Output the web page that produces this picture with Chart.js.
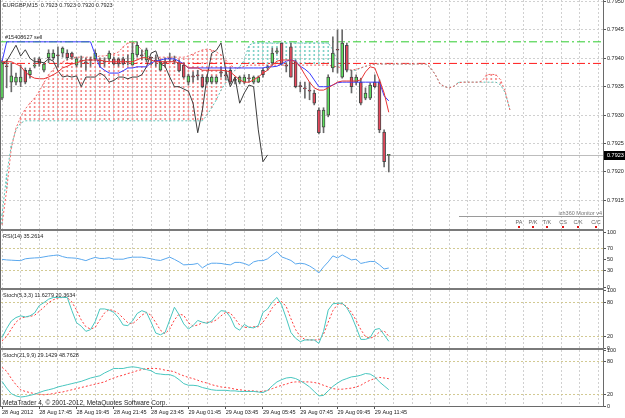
<!DOCTYPE html>
<html>
<head>
<meta charset="utf-8">
<script src="https://cdn.jsdelivr.net/npm/chart.js@4.4.1/dist/chart.umd.min.js"></script>
<style>
  body { margin: 0; background: #fff; width: 625px; height: 418px; overflow: hidden; position: relative; }
  canvas { position: absolute; left: 0; }
  .sep { position: absolute; left: 0; width: 604px; height: 2px; background: #7a7a7a; z-index: 5; }
</style>
</head>
<body>
<canvas id="mainChart" width="625" height="241" style="top:-6px"></canvas>
<canvas id="rsiChart" width="625" height="69" style="top:225px"></canvas>
<canvas id="stochFast" width="625" height="70" style="top:284px"></canvas>
<canvas id="stochSlow" width="625" height="74" style="top:344px"></canvas>
<div class="sep" style="top:229px"></div>
<div class="sep" style="top:288px"></div>
<div class="sep" style="top:348px"></div>
<script>
// EURGBP M15, 28 Aug 15:45 .. 29 Aug 12:30 (84 bars)
const symbol = 'EURGBP,M15';
const timeLabels = ['28 Aug 2012', '28 Aug 17:45', '28 Aug 19:45', '28 Aug 21:45', '28 Aug 23:45',
  '29 Aug 01:45', '29 Aug 03:45', '29 Aug 05:45', '29 Aug 07:45', '29 Aug 09:45', '29 Aug 11:45'];

const open = [
  0.79330, 0.79386, 0.79358, 0.79358, 0.79358, 0.79379, 0.79371, 0.79386, 0.79399, 0.79379,
  0.79401, 0.79401, 0.79406, 0.79409, 0.79409, 0.79409, 0.79388, 0.79397, 0.79394, 0.79397,
  0.79399, 0.79397, 0.79394, 0.79399, 0.79399, 0.79399, 0.79399, 0.79394, 0.79388, 0.79406,
  0.79406, 0.79397, 0.79401, 0.79397, 0.79379, 0.79394, 0.79401, 0.79397, 0.79392, 0.79388,
  0.79358, 0.79369, 0.79371, 0.79367, 0.79358, 0.79358, 0.79358, 0.79376, 0.79371, 0.79379,
  0.79362, 0.79358, 0.79358, 0.79365, 0.79358, 0.79358, 0.79379, 0.79383, 0.79392, 0.79411,
  0.79427, 0.79388, 0.79420, 0.79394, 0.79351, 0.79348, 0.79344, 0.79339, 0.79309, 0.79279,
  0.79300, 0.79383, 0.79415, 0.79367, 0.79423, 0.79367, 0.79358, 0.79358, 0.79330, 0.79330,
  0.79358, 0.79358, 0.79270, 0.79230
];
const high = [
  0.79397, 0.79397, 0.79392, 0.79374, 0.79388, 0.79383, 0.79383, 0.79401, 0.79402, 0.79392,
  0.79415, 0.79415, 0.79420, 0.79420, 0.79415, 0.79411, 0.79402, 0.79404, 0.79401, 0.79402,
  0.79415, 0.79401, 0.79401, 0.79413, 0.79402, 0.79401, 0.79402, 0.79406, 0.79427, 0.79429,
  0.79415, 0.79418, 0.79402, 0.79406, 0.79397, 0.79401, 0.79409, 0.79404, 0.79397, 0.79392,
  0.79372, 0.79376, 0.79379, 0.79371, 0.79369, 0.79369, 0.79369, 0.79385, 0.79379, 0.79383,
  0.79367, 0.79369, 0.79371, 0.79372, 0.79369, 0.79369, 0.79383, 0.79388, 0.79418, 0.79418,
  0.79427, 0.79392, 0.79427, 0.79397, 0.79358, 0.79358, 0.79358, 0.79344, 0.79313, 0.79313,
  0.79371, 0.79438, 0.79450, 0.79450, 0.79427, 0.79379, 0.79371, 0.79365, 0.79348, 0.79357,
  0.79371, 0.79362, 0.79274, 0.79230
];
const low = [
  0.79327, 0.79348, 0.79341, 0.79353, 0.79350, 0.79355, 0.79365, 0.79383, 0.79386, 0.79376,
  0.79392, 0.79397, 0.79385, 0.79402, 0.79397, 0.79399, 0.79385, 0.79385, 0.79379, 0.79386,
  0.79395, 0.79385, 0.79386, 0.79395, 0.79388, 0.79386, 0.79388, 0.79388, 0.79388, 0.79402,
  0.79397, 0.79394, 0.79388, 0.79386, 0.79378, 0.79386, 0.79394, 0.79390, 0.79376, 0.79365,
  0.79353, 0.79358, 0.79362, 0.79348, 0.79355, 0.79355, 0.79355, 0.79367, 0.79362, 0.79355,
  0.79355, 0.79355, 0.79355, 0.79358, 0.79355, 0.79357, 0.79367, 0.79379, 0.79388, 0.79408,
  0.79388, 0.79376, 0.79367, 0.79348, 0.79341, 0.79330, 0.79327, 0.79318, 0.79267, 0.79269,
  0.79297, 0.79376, 0.79374, 0.79365, 0.79376, 0.79339, 0.79353, 0.79318, 0.79327, 0.79327,
  0.79348, 0.79269, 0.79209, 0.79200
];
const close = [
  0.79394, 0.79385, 0.79369, 0.79367, 0.79367, 0.79358, 0.79379, 0.79388, 0.79392, 0.79390,
  0.79409, 0.79409, 0.79404, 0.79418, 0.79401, 0.79402, 0.79399, 0.79395, 0.79392, 0.79396,
  0.79409, 0.79395, 0.79393, 0.79409, 0.79390, 0.79390, 0.79390, 0.79395, 0.79409, 0.79423,
  0.79404, 0.79415, 0.79400, 0.79394, 0.79394, 0.79392, 0.79399, 0.79395, 0.79378, 0.79367,
  0.79369, 0.79367, 0.79369, 0.79350, 0.79367, 0.79367, 0.79367, 0.79374, 0.79369, 0.79358,
  0.79361, 0.79367, 0.79367, 0.79364, 0.79367, 0.79367, 0.79371, 0.79385, 0.79409, 0.79413,
  0.79390, 0.79386, 0.79367, 0.79350, 0.79350, 0.79346, 0.79342, 0.79321, 0.79269, 0.79309,
  0.79367, 0.79409, 0.79414, 0.79427, 0.79379, 0.79350, 0.79367, 0.79321, 0.79339, 0.79353,
  0.79350, 0.79274, 0.79218, 0.79230
];

// Ichimoku lines
const tenkan = [
  0.79394, 0.79394, 0.79394, 0.79390, 0.79386, 0.79376, 0.79369, 0.79365, 0.79364, 0.79364,
  0.79367, 0.79371, 0.79376, 0.79383, 0.79386, 0.79390, 0.79392, 0.79395, 0.79397, 0.79397,
  0.79397, 0.79397, 0.79395, 0.79394, 0.79394, 0.79394, 0.79394, 0.79394, 0.79394, 0.79397,
  0.79401, 0.79401, 0.79397, 0.79394, 0.79394, 0.79394, 0.79394, 0.79394, 0.79392, 0.79390,
  0.79383, 0.79383, 0.79383, 0.79379, 0.79379, 0.79379, 0.79379, 0.79379, 0.79378, 0.79376,
  0.79369, 0.79362, 0.79358, 0.79358, 0.79362, 0.79367, 0.79374, 0.79379, 0.79388, 0.79395,
  0.79397, 0.79397, 0.79397, 0.79394, 0.79385, 0.79371, 0.79358, 0.79348, 0.79344, 0.79344,
  0.79348, 0.79353, 0.79358, 0.79360, 0.79360, 0.79360, 0.79360, 0.79362, 0.79376, 0.79385,
  0.79383, 0.79362, 0.79339, 0.79305
];
const kijun = [
  0.79394, 0.79429, 0.79429, 0.79429, 0.79429, 0.79429, 0.79429, 0.79429, 0.79429, 0.79429,
  0.79429, 0.79429, 0.79429, 0.79429, 0.79429, 0.79429, 0.79429, 0.79429, 0.79429, 0.79429,
  0.79406, 0.79385, 0.79379, 0.79374, 0.79374, 0.79374, 0.79378, 0.79383, 0.79383, 0.79385,
  0.79385, 0.79385, 0.79392, 0.79395, 0.79397, 0.79399, 0.79399, 0.79399, 0.79395, 0.79390,
  0.79383, 0.79383, 0.79383, 0.79383, 0.79383, 0.79383, 0.79383, 0.79383, 0.79383, 0.79383,
  0.79383, 0.79383, 0.79383, 0.79383, 0.79383, 0.79383, 0.79383, 0.79385, 0.79385, 0.79386,
  0.79390, 0.79395, 0.79397, 0.79395, 0.79386, 0.79381, 0.79374, 0.79362, 0.79350, 0.79350,
  0.79350, 0.79353, 0.79357, 0.79358, 0.79358, 0.79358, 0.79358, 0.79358, 0.79358, 0.79358,
  0.79358, 0.79358, 0.79334, 0.79325
];
// cloud spans run 26 bars past the last candle (110 values)
const spanA = [
  0.79107, 0.79168, 0.79242, 0.79277, 0.79297, 0.79311, 0.79321, 0.79330, 0.79342, 0.79357,
  0.79371, 0.79381, 0.79388, 0.79394, 0.79397, 0.79401, 0.79402, 0.79402, 0.79402, 0.79402,
  0.79402, 0.79404, 0.79404, 0.79406, 0.79408, 0.79411, 0.79420, 0.79427, 0.79429, 0.79423,
  0.79415, 0.79404, 0.79401, 0.79401, 0.79402, 0.79402, 0.79402, 0.79402, 0.79402, 0.79402,
  0.79404, 0.79408, 0.79411, 0.79415, 0.79416, 0.79415, 0.79411, 0.79406, 0.79397, 0.79388,
  0.79383, 0.79383, 0.79386, 0.79388, 0.79388, 0.79388, 0.79388, 0.79388, 0.79388, 0.79388,
  0.79388, 0.79388, 0.79388, 0.79388, 0.79388, 0.79388, 0.79388, 0.79388, 0.79388, 0.79388,
  0.79388, 0.79386, 0.79385, 0.79383, 0.79381, 0.79379, 0.79381, 0.79383, 0.79386, 0.79388,
  0.79390, 0.79390, 0.79390, 0.79390, 0.79390, 0.79390, 0.79390, 0.79390, 0.79390, 0.79390,
  0.79390, 0.79390, 0.79383, 0.79371, 0.79355, 0.79350, 0.79348, 0.79351, 0.79357, 0.79358,
  0.79358, 0.79358, 0.79358, 0.79360, 0.79371, 0.79372, 0.79371, 0.79362, 0.79341, 0.79309
];
const spanB = [
  0.79124, 0.79195, 0.79247, 0.79274, 0.79286, 0.79290, 0.79290, 0.79290, 0.79290, 0.79290,
  0.79290, 0.79290, 0.79290, 0.79290, 0.79290, 0.79290, 0.79290, 0.79290, 0.79290, 0.79290,
  0.79290, 0.79290, 0.79290, 0.79290, 0.79290, 0.79290, 0.79290, 0.79290, 0.79290, 0.79290,
  0.79290, 0.79290, 0.79290, 0.79290, 0.79290, 0.79290, 0.79290, 0.79290, 0.79290, 0.79290,
  0.79290, 0.79290, 0.79290, 0.79290, 0.79300, 0.79313, 0.79327, 0.79344, 0.79357, 0.79371,
  0.79379, 0.79385, 0.79397, 0.79423, 0.79427, 0.79427, 0.79427, 0.79427, 0.79427, 0.79427,
  0.79427, 0.79427, 0.79427, 0.79427, 0.79427, 0.79427, 0.79427, 0.79427, 0.79427, 0.79427,
  0.79427, 0.79415, 0.79394, 0.79383, 0.79379, 0.79379, 0.79379, 0.79383, 0.79386, 0.79388,
  0.79390, 0.79390, 0.79390, 0.79390, 0.79390, 0.79390, 0.79390, 0.79390, 0.79390, 0.79390,
  0.79390, 0.79390, 0.79383, 0.79371, 0.79355, 0.79350, 0.79348, 0.79351, 0.79358, 0.79358,
  0.79358, 0.79358, 0.79358, 0.79358, 0.79358, 0.79358, 0.79358, 0.79353, 0.79339, 0.79309
];

const orderTicket = '#15408627 sell';
const orderPrice = 0.79429;
const stopPrice = 0.79391;
const priceTicks = [0.7915, 0.7920, 0.7925, 0.7930, 0.7935, 0.7940, 0.7945, 0.7950];

const rsi = [
  51, 50, 49.5, 49, 48.7, 52, 53, 53.6, 54, 55.5,
  57, 58, 59, 56, 54, 53.6, 53, 51, 48.7, 52,
  54.5, 52.7, 52.7, 54, 51.3, 51.3, 51.3, 53.6, 55, 55,
  55, 53.6, 52, 50, 49, 52, 55, 51, 46.4, 41,
  41.5, 42, 43.6, 35.5, 41, 44, 44, 43.6, 42, 41,
  45.5, 45.5, 43.6, 40, 46.4, 48.7, 48.7, 52, 59, 65,
  55.5, 52.4, 49, 42.7, 44, 42.7, 39, 33.6, 26.4, 37.3,
  46.4, 57.3, 53.6, 59, 54.5, 50, 51.3, 43.6, 45.5, 47.3,
  47, 41, 33.6, 35.2614
];
const rsiTicks = [0, 30, 50, 70, 100];
const rsiLevels = [30, 70];

const stochMain = [
  18, 34, 47, 53, 56, 54, 56, 61, 74, 79,
  85, 88, 88, 88, 88, 65, 44, 38, 29, 32,
  46, 68, 68, 66, 62, 53, 40, 39, 47, 60,
  65, 62, 45, 26, 23, 27, 49, 71, 58, 42,
  33, 39, 48, 45, 43, 47, 57, 65, 64, 54,
  36, 31, 41, 36, 35, 39, 62, 68, 80, 88,
  75, 52, 27, 17, 11, 14, 14, 14, 8, 29,
  66, 77, 78, 78, 70, 56, 36, 15, 15, 18,
  32, 34, 23, 11.6279
];
const stochSignal = [
  12, 20, 33, 45, 52, 54, 55, 57, 64, 71,
  79, 84, 87, 88, 88, 80, 66, 49, 37, 33,
  36, 49, 61, 67, 65, 60, 52, 44, 42, 49,
  57, 62, 57, 44, 31, 25, 33, 49, 59, 57,
  44, 38, 40, 44, 45, 45, 49, 56, 62, 61,
  51, 40, 36, 36, 37, 37, 45, 56, 70, 79,
  81, 72, 51, 32, 20, 15, 14, 14, 14, 24,
  45, 65, 76, 77, 72, 62, 48, 32, 20, 17,
  20, 28, 30, 20.3634
];
const slowMain = [
  44, 32, 22, 18, 16, 17, 19, 21, 24, 27,
  29, 31, 34, 36, 38, 40, 42, 44, 47, 50,
  52, 54, 59, 63, 67, 67, 67, 69, 70, 69,
  67, 65, 63, 58, 57, 56, 56, 53, 47, 40,
  37, 37, 36, 33, 31, 29, 28, 28, 28, 27,
  27, 26, 26, 26, 26, 25, 24, 28, 36, 43,
  47, 50, 51, 49, 45, 40, 34, 26, 18, 19,
  27, 35, 41, 46, 49, 52, 53, 55, 58, 57,
  52, 43, 36, 29.1429
];
const slowSignal = [
  69, 62, 49, 38, 29, 26, 24, 22, 21, 20,
  21, 22, 24, 25, 27, 29, 31, 33, 35, 37,
  39, 41, 43, 47, 50, 53, 55, 58, 60, 63,
  65, 67, 67, 67, 66, 64, 63, 61, 57, 54,
  51, 49, 46, 43, 41, 38, 36, 34, 33, 32,
  30, 29, 28, 27, 27, 26, 26, 28, 31, 34,
  37, 39, 42, 43, 43, 43, 43, 42, 40, 37,
  34, 31, 30, 30, 31, 32, 34, 37, 42, 46,
  49, 51, 50, 48.7628
];
const stochTicks = [0, 20, 80, 100];
const stochLevels = [20, 80];
const monitorLabels = ['PA', 'P/K', 'T/K', 'CS', 'C/K', 'C/C'];

const FONT = '"Liberation Sans", Arial, sans-serif';
const X_MIN = -0.2146, X_MAX = 128.97;
Chart.defaults.font.family = FONT;

const gridTicks = [];
for (let v = 0; v <= 128; v += 4) gridTicks.push(v);
const xy = arr => arr.map((v, i) => ({ x: i, y: v }));
const last = arr => arr[arr.length - 1];
const hasLabel = v => v % 8 === 0 && v / 8 < timeLabels.length;
const fullWidth = p => [{ x: X_MIN, y: p }, { x: X_MAX, y: p }];

function xAxis(showLabels) {
  return {
    type: 'linear', min: X_MIN, max: X_MAX, offset: false,
    afterBuildTicks: s => { s.ticks = gridTicks.map(v => ({ value: v })); },
    afterFit: s => { s.height = showLabels ? 12 : 0; },
    grid: {
      offset: false, color: '#d0d0d0', lineWidth: 1, drawTicks: showLabels, tickLength: 3, tickBorderDash: [],
      tickColor: c => (c.tick && hasLabel(c.tick.value)) ? '#555' : 'rgba(0,0,0,0)'
    },
    border: { display: false, dash: [2, 2] },
    ticks: {
      display: showLabels, autoSkip: false, maxRotation: 0, align: 'start', padding: 0,
      color: '#222', font: { size: 5.5 },
      callback: v => hasLabel(v) ? timeLabels[v / 8] : ''
    }
  };
}

function yAxis(min, max, ticks, fmt, gridColor) {
  return {
    type: 'linear', position: 'right', min, max,
    afterBuildTicks: s => { s.ticks = ticks.map(v => ({ value: v })); },
    afterFit: s => { s.width = 22; },
    grid: { color: gridColor, drawTicks: true, tickLength: 3, tickColor: '#555', tickBorderDash: [] },
    border: { display: false, dash: [2, 2] },
    ticks: { padding: 1, color: '#222', font: { size: 5.5 }, callback: fmt }
  };
}

// frame lines + pane caption
const framePlugin = {
  id: 'frame',
  afterDraw(chart, args, opts) {
    const { ctx, chartArea: a } = chart;
    ctx.save();
    ctx.strokeStyle = '#6a6a6a';
    ctx.lineWidth = 1;
    ctx.beginPath();
    ctx.moveTo(a.right + 0.5, a.top); ctx.lineTo(a.right + 0.5, a.bottom);
    ctx.moveTo(0.5, a.top); ctx.lineTo(0.5, a.bottom);
    if (opts.bottomLine) { ctx.moveTo(0, a.bottom + 0.5); ctx.lineTo(a.right + 1, a.bottom + 0.5); }
    ctx.stroke();
    ctx.fillStyle = '#1e1e1e';
    ctx.textBaseline = 'middle';
    ctx.font = '5.5px ' + FONT;
    if (opts.caption) ctx.fillText(opts.caption, 3, a.top + 5.5);
    if (opts.footer) {
      ctx.font = '6.5px ' + FONT;
      ctx.fillText(opts.footer, 3, a.bottom - 3);
    }
    ctx.restore();
  }
};

// bid line, texts, price tag, monitor panel
const tradePlugin = {
  id: 'trade',
  beforeDatasetsDraw(chart) {
    const { ctx, chartArea: a, scales: { y } } = chart;
    ctx.save();
    ctx.lineWidth = 1;
    const yb = Math.round(y.getPixelForValue(last(close))) + 0.5;
    ctx.strokeStyle = '#bdbdbd';
    ctx.beginPath(); ctx.moveTo(a.left, yb); ctx.lineTo(a.right, yb); ctx.stroke();
    ctx.restore();
  },
  afterDraw(chart) {
    const { ctx, chartArea: a, scales: { y } } = chart;
    ctx.save();
    ctx.font = '5.5px ' + FONT;
    ctx.textBaseline = 'middle';
    ctx.fillStyle = '#1e1e1e';
    const hdr = [open, high, low, close].map(s => last(s).toFixed(4)).join(' ');
    ctx.fillText(symbol + '  ' + hdr, 3, a.top + 5.5);
    ctx.fillText(orderTicket, 5, y.getPixelForValue(orderPrice) - 4);

    // current price tag
    const yb = Math.round(y.getPixelForValue(last(close)));
    ctx.fillStyle = '#000';
    ctx.fillRect(a.right + 1, yb - 4, 22, 9);
    ctx.fillStyle = '#fff';
    ctx.fillText(last(close).toFixed(4), a.right + 4, yb + 0.5);

    // ich360 monitor block
    ctx.fillStyle = '#777';
    ctx.textAlign = 'right';
    ctx.fillText('ich360 Monitor v4', a.right - 1, a.bottom - 16);
    ctx.strokeStyle = '#9a9a9a';
    ctx.beginPath(); ctx.moveTo(a.right - 144, a.bottom - 12.5); ctx.lineTo(a.right, a.bottom - 12.5); ctx.stroke();
    ctx.textAlign = 'center';
    const cx = [519, 533, 547, 563, 578, 596];
    monitorLabels.forEach((t, k) => {
      ctx.fillStyle = '#666';
      ctx.fillText(t, cx[k], a.bottom - 7);
      ctx.fillStyle = '#e01818';
      ctx.fillRect(cx[k] - 1, a.bottom - 3, 2, 2);
    });
    ctx.restore();
  }
};

function dotPattern(canvas, color) {
  const c = document.createElement('canvas');
  c.width = 1; c.height = 4;
  const g = c.getContext('2d');
  g.fillStyle = color;
  g.fillRect(0, 0, 1, 2);
  return canvas.getContext('2d').createPattern(c, 'repeat');
}

const mainCanvas = document.getElementById('mainChart');
const bodies = open.map((o, i) => {
  const c = close[i];
  return { x: i, y: Math.abs(o - c) < 0.000012 ? [o - 0.000008, o + 0.000008] : [o, c] };
});
const bodyColors = open.map((o, i) => close[i] >= o ? '#5fe05f' : '#e8485c');
const wicks = low.map((l, i) => ({ x: i, y: [l, high[i]] }));
const cloudUp = [], cloudDown = [];
spanA.forEach((a, i) => {
  const b = spanB[i];
  if (a > b) cloudUp.push({ x: i, y: [b, a] });
  else if (b > a) cloudDown.push({ x: i, y: [a, b] });
});
const lineDs = (label, data, color, order, dash) => ({
  type: 'line', label, data, borderColor: color, borderWidth: 1, pointRadius: 0,
  tension: 0, order, borderDash: dash || []
});

const baseOpts = {
  responsive: false, animation: false, devicePixelRatio: 1, events: [],
  plugins: { legend: { display: false }, tooltip: { enabled: false } }
};

new Chart(mainCanvas, {
  type: 'bar',
  data: {
    datasets: [
      lineDs('Tenkan-sen', xy(tenkan), '#e83434', 1),
      lineDs('Kijun-sen', xy(kijun), '#3a3aff', 2),
      lineDs('Chikou Span', xy(close.slice(26)), '#3c3c3c', 3),
      { type: 'bar', label: 'Body', data: bodies, backgroundColor: bodyColors, borderColor: '#474747',
        borderWidth: 1, borderSkipped: false, barThickness: 3, grouped: false, order: 4 },
      { type: 'bar', label: 'Wick', data: wicks, backgroundColor: '#6a6a6a', barThickness: 1, grouped: false, order: 5 },
      lineDs('Senkou Span A', xy(spanA), '#f06464', 6, [2, 2]),
      lineDs('Senkou Span B', xy(spanB), '#5ec2b6', 7, [2, 2]),
      lineDs('Order', fullWidth(orderPrice), '#2ecc2e', 8, [8, 3, 2, 3]),
      lineDs('Stop', fullWidth(stopPrice), '#ff1a1a', 8, [8, 3, 2, 3]),
      { type: 'bar', label: 'Cloud up', data: cloudUp, backgroundColor: dotPattern(mainCanvas, '#f58c8c'),
        barThickness: 1, grouped: false, order: 9 },
      { type: 'bar', label: 'Cloud down', data: cloudDown, backgroundColor: dotPattern(mainCanvas, '#82d2c8'),
        barThickness: 1, grouped: false, order: 10 }
    ]
  },
  options: Object.assign({}, baseOpts, {
    layout: { padding: { left: 1, right: 0, top: 6, bottom: 6 } },
    scales: {
      x: xAxis(false),
      y: yAxis(0.790996, 0.795026, priceTicks, v => v.toFixed(4), '#d0d0d0')
    },
    plugins: Object.assign({}, baseOpts.plugins, { frame: {} })
  }),
  plugins: [framePlugin, tradePlugin]
});

function levelColor(levels, col) {
  return c => (c.tick && levels.includes(c.tick.value)) ? col : 'rgba(0,0,0,0)';
}

function subPane(id, datasets, min, max, ticks, levels, caption, extra) {
  const showLabels = !!(extra && extra.labels);
  new Chart(document.getElementById(id), {
    type: 'line',
    data: { datasets },
    options: Object.assign({}, baseOpts, {
      layout: { padding: { left: 1, right: 0, top: 6, bottom: showLabels ? 0 : 6 } },
      scales: {
        x: xAxis(showLabels),
        y: yAxis(min, max, ticks, v => String(v), levelColor(levels, '#d2c992'))
      },
      plugins: Object.assign({}, baseOpts.plugins, {
        frame: { caption, footer: extra && extra.footer, bottomLine: showLabels }
      })
    }),
    plugins: [framePlugin]
  });
}

subPane('rsiChart', [lineDs('RSI', xy(rsi), '#5aa8ee', 1)],
  -1, 102.5, rsiTicks, rsiLevels, 'RSI(14) ' + last(rsi).toFixed(4));

subPane('stochFast', [
  lineDs('Main', xy(stochMain), '#48c6bf', 1),
  lineDs('Signal', xy(stochSignal), '#ff3c3c', 2, [2, 2])
], 0, 101, stochTicks, stochLevels,
  'Stoch(5,3,3) ' + last(stochMain).toFixed(4) + ' ' + last(stochSignal).toFixed(4));

subPane('stochSlow', [
  lineDs('Main', xy(slowMain), '#48c6bf', 1),
  lineDs('Signal', xy(slowSignal), '#ff3c3c', 2, [2, 2])
], 0, 100, stochTicks, stochLevels,
  'Stoch(21,9,9) ' + last(slowMain).toFixed(4) + ' ' + last(slowSignal).toFixed(4),
  { labels: true, footer: 'MetaTrader 4, \u00a9 2001-2012, MetaQuotes Software Corp.' });
</script>
</body>
</html>
